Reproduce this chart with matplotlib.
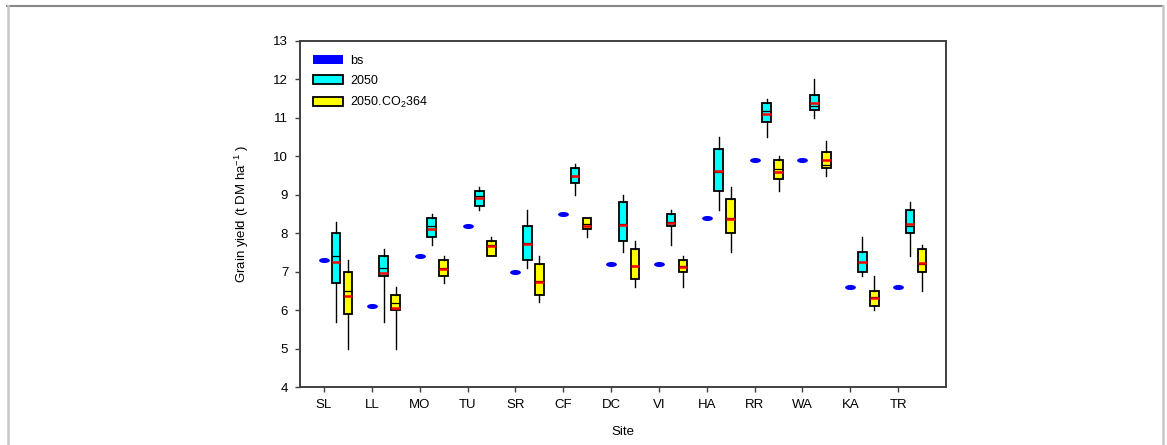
import matplotlib
matplotlib.use('Agg')
import matplotlib.pyplot as plt
from matplotlib.patches import Patch
from matplotlib.lines import Line2D
from matplotlib.path import Path
from matplotlib.transforms import Affine2D
import numpy as np

plt.rcParams['font.family'] = ['Liberation Sans', 'DejaVu Sans']
plt.rcParams['mathtext.fontset'] = 'custom'
plt.rcParams['mathtext.rm'] = 'Liberation Sans'
plt.rcParams['mathtext.it'] = 'Liberation Sans:italic'
plt.rcParams['mathtext.default'] = 'regular'

# sites and baseline yield
sites = ['SL', 'LL', 'MO', 'TU', 'SR', 'CF', 'DC', 'VI', 'HA', 'RR', 'WA', 'KA', 'TR']
bs = [7.3, 6.1, 7.4, 8.2, 7.0, 8.5, 7.2, 7.2, 8.4, 9.9, 9.9, 6.6, 6.6]

# 2050 box statistics
y2050_lo = [5.7, 5.7, 7.7, 8.6, 7.1, 9.0, 7.5, 7.7, 8.6, 10.5, 11.0, 6.9, 7.4]
y2050_q1 = [6.7, 6.9, 7.9, 8.7, 7.3, 9.3, 7.8, 8.2, 9.1, 10.9, 11.2, 7.0, 8.0]
y2050_med = [7.4, 7.1, 8.18, 8.96, 7.75, 9.5, 8.25, 8.3, 9.6, 11.18, 11.3, 7.25, 8.2]
y2050_mean = [7.26, 6.96, 8.12, 8.91, 7.72, 9.49, 8.22, 8.27, 9.61, 11.10, 11.40, 7.25, 8.25]
y2050_q3 = [8.0, 7.4, 8.4, 9.1, 8.2, 9.7, 8.8, 8.5, 10.2, 11.4, 11.6, 7.5, 8.6]
y2050_hi = [8.3, 7.6, 8.5, 9.2, 8.6, 9.8, 9.0, 8.6, 10.5, 11.5, 12.0, 7.9, 8.8]

# 2050.CO2 364 box statistics
co2_lo = [5.0, 5.0, 6.7, 7.4, 6.2, 7.9, 6.6, 6.6, 7.5, 9.1, 9.5, 6.0, 6.5]
co2_q1 = [5.9, 6.0, 6.9, 7.4, 6.4, 8.1, 6.8, 7.0, 8.0, 9.4, 9.7, 6.1, 7.0]
co2_med = [6.5, 6.19, 7.1, 7.7, 6.75, 8.25, 7.15, 7.15, 8.4, 9.68, 9.78, 6.35, 7.2]
co2_mean = [6.36, 6.05, 7.07, 7.66, 6.72, 8.2, 7.15, 7.12, 8.38, 9.59, 9.9, 6.32, 7.22]
co2_q3 = [7.0, 6.4, 7.3, 7.8, 7.2, 8.4, 7.6, 7.3, 8.9, 9.9, 10.1, 6.5, 7.6]
co2_hi = [7.3, 6.6, 7.4, 7.9, 7.4, 8.4, 7.8, 7.4, 9.2, 10.0, 10.4, 6.9, 7.7]


def mkStats(lo, q1, med, mean, q3, hi):
	return [dict(whislo=a, q1=b, med=c, mean=d, q3=e, whishi=f, fliers=[])
			for a, b, c, d, e, f in zip(lo, q1, med, mean, q3, hi)]


def drawBoxes(ax, stats, pos, color):
	ax.bxp(stats, positions=pos, widths=0.18, patch_artist=True,
		   showmeans=True, meanline=True, showcaps=False, showfliers=False,
		   boxprops=dict(facecolor=color, edgecolor='black', linewidth=1.3),
		   medianprops=dict(color='black', linewidth=0.9),
		   meanprops=dict(color='red', linewidth=1.8, linestyle='-'),
		   whiskerprops=dict(color='black', linewidth=1.0),
		   manage_ticks=False, zorder=3)


x = np.arange(len(sites))

fig = plt.figure(figsize=(11.67, 4.45), dpi=100)
ax = fig.add_axes([0.2571, 0.1303, 0.5535, 0.7776])

# baseline as a flat rounded dash
dash = Path.unit_circle().transformed(Affine2D().scale(1.0, 0.47))
ax.plot(x, bs, linestyle='none', marker=dash, markersize=7.8,
		color='#0000ff', markeredgewidth=0, zorder=3)

drawBoxes(ax, mkStats(y2050_lo, y2050_q1, y2050_med, y2050_mean, y2050_q3, y2050_hi),
		  x + 0.25, '#00ffff')
drawBoxes(ax, mkStats(co2_lo, co2_q1, co2_med, co2_mean, co2_q3, co2_hi),
		  x + 0.5, '#ffff00')

ax.set_xlim(-0.5, 13)
ax.set_ylim(4, 13)
ax.set_xticks(x)
ax.set_xticklabels(sites)
ax.set_yticks(range(4, 14))
for sp in ax.spines.values():
	sp.set_color('#404040')
	sp.set_linewidth(1.4)
ax.tick_params(direction='out', length=3.5, width=1.0, color='#404040',
			   labelsize=9.5, pad=5)
ax.set_xlabel('Site', fontsize=9.5, labelpad=11)
ax.set_ylabel('Grain yield (t DM ha$^{-1}$ )', fontsize=9.5, labelpad=16)

handles = [Patch(facecolor='#0000ff', edgecolor='none', label='bs'),
		   Patch(facecolor='#00ffff', edgecolor='black', linewidth=1.3, label='2050'),
		   Patch(facecolor='#ffff00', edgecolor='black', linewidth=1.3,
				 label='2050.CO$_2$364')]
ax.legend(handles=handles, loc='upper left', bbox_to_anchor=(0.02, 0.96),
		  frameon=False, fontsize=9, handlelength=2.4, handleheight=0.75,
		  labelspacing=0.65, handletextpad=0.6, borderpad=0, borderaxespad=0)

# outer frame of the page
fig.add_artist(Line2D([0.006, 0.9966], [0.9865, 0.9865], color='#888888', lw=1.5))
fig.add_artist(Line2D([0.007, 0.007], [0.0, 0.9865], color='#c8c8c8', lw=1.8))
fig.add_artist(Line2D([0.9966, 0.9966], [0.0, 0.9865], color='#c8c8c8', lw=1.8))

fig.savefig('out.png', dpi=100)
